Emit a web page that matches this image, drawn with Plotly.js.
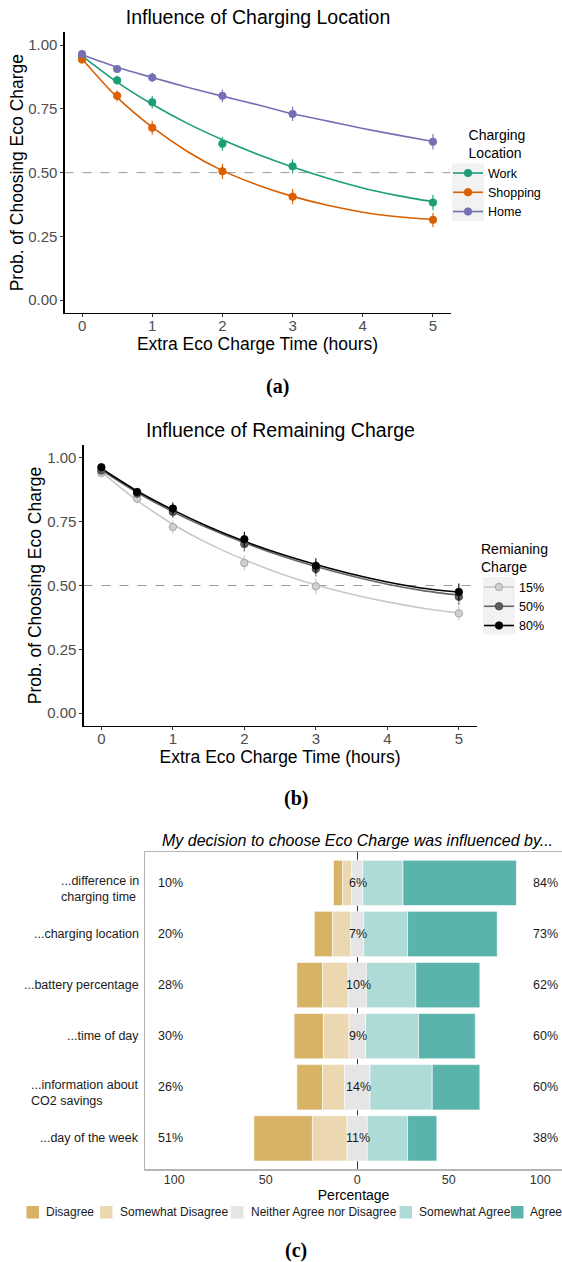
<!DOCTYPE html>
<html>
<head>
<meta charset="utf-8">
<script src="https://cdn.plot.ly/plotly-3.0.1.min.js"></script>
<style>
html, body { margin: 0; padding: 0; background: #ffffff; }
#chart { width: 562px; height: 1262px; }
</style>
</head>
<body>
<div id="chart"></div>
<script>
// ---------------- Data: panel (a) Influence of Charging Location ----------------
const extraHours = [0, 0.5, 1, 2, 3, 5];
const locationNames = ['Work', 'Shopping', 'Home'];
const workObs = [0.955, 0.862, 0.776, 0.613, 0.525, 0.383];
const shoppingObs = [0.943, 0.801, 0.676, 0.505, 0.406, 0.315];
const homeObs = [0.965, 0.906, 0.873, 0.801, 0.730, 0.621];
const workErr = [0.008, 0.018, 0.025, 0.027, 0.028, 0.030];
const shoppingErr = [0.010, 0.022, 0.027, 0.030, 0.030, 0.028];
const homeErr = [0.006, 0.012, 0.018, 0.025, 0.028, 0.030];

const fitHours = [0, 0.5, 1, 1.5, 2, 2.5, 3, 3.5, 4, 4.5, 5];
const workFit = [0.958, 0.855, 0.768, 0.693, 0.629, 0.572, 0.522, 0.478, 0.440, 0.410, 0.386];
const shoppingFit = [0.945, 0.795, 0.678, 0.583, 0.508, 0.452, 0.407, 0.372, 0.345, 0.327, 0.316];
const homeFit = [0.962, 0.913, 0.873, 0.835, 0.800, 0.766, 0.731, 0.702, 0.673, 0.647, 0.622];

// ---------------- Data: panel (b) Influence of Remaining Charge ----------------
const chargeNames = ['15%', '50%', '80%'];
const charge15Obs = [0.940, 0.840, 0.729, 0.588, 0.497, 0.391];
const charge50Obs = [0.950, 0.860, 0.788, 0.662, 0.565, 0.456];
const charge80Obs = [0.963, 0.866, 0.801, 0.681, 0.577, 0.475];
const charge15Err = [0.008, 0.018, 0.026, 0.030, 0.030, 0.030];
const charge50Err = [0.007, 0.017, 0.024, 0.029, 0.030, 0.032];
const charge80Err = [0.006, 0.016, 0.024, 0.029, 0.030, 0.033];
const charge15Fit = [0.945, 0.833, 0.740, 0.664, 0.601, 0.547, 0.502, 0.466, 0.436, 0.411, 0.392];
const charge50Fit = [0.952, 0.864, 0.789, 0.724, 0.667, 0.617, 0.574, 0.537, 0.505, 0.480, 0.462];
const charge80Fit = [0.958, 0.870, 0.796, 0.730, 0.673, 0.624, 0.582, 0.545, 0.514, 0.489, 0.474];

// ---------------- Data: panel (c) Likert ----------------
const likertItems = [
  '...difference in<br>charging time',
  '...charging location',
  '...battery percentage',
  '...time of day',
  '...information about<br>CO2 savings',
  '...day of the week'
];
const likertLevels = ['Disagree', 'Somewhat Disagree', 'Neither Agree nor Disagree', 'Somewhat Agree', 'Agree'];
const disagree = [5, 10, 14, 16, 14, 32];
const somewhatDisagree = [5, 10, 14, 14, 12, 19];
const neutral = [6, 7, 10, 9, 14, 11];
const somewhatAgree = [22, 24, 27, 29, 34, 22];
const agree = [62, 49, 35, 31, 26, 16];
const percentTicks = [-100, -50, 0, 50, 100];
const percentTickText = ['100', '50', '0', '50', '100'];
const hourTicks = [0, 1, 2, 3, 4, 5];
const probTicks = [0, 0.25, 0.5, 0.75, 1];

// ---------------- Layout helpers ----------------
const W = 562, H = 1262;
const fx = p => p / W;
const fy = p => 1 - p / H;
const FONT = 'Liberation Sans, Arial, Helvetica, sans-serif';
const SERIF = 'Liberation Serif, Times New Roman, serif';

const locColors = ['#1b9e77', '#d95f02', '#7570b3'];
const chargeLine = ['#c8c8c8', '#666666', '#000000'];
const chargeFill = ['#cfcfcf', '#5e5e5e', '#000000'];
const chargeEdge = ['#9a9a9a', '#3f3f3f', '#000000'];
const likertColors = ['#d8b365', '#ebd8b0', '#e5e5e5', '#afdbd6', '#5ab4ac'];

const traces = [];

function addPanel(obsList, errList, fitList, names, lineCols, fillCols, edgeCols, xa, ya, legendId) {
  names.forEach((nm, i) => {
    traces.push({
      type: 'scatter', mode: 'lines', x: fitHours, y: fitList[i],
      line: { color: lineCols[i], width: 1.6, shape: 'spline', smoothing: 0.8 },
      xaxis: xa, yaxis: ya, showlegend: false, hoverinfo: 'skip'
    });
  });
  names.forEach((nm, i) => {
    traces.push({
      type: 'scatter', mode: 'markers', x: extraHours, y: obsList[i],
      marker: { color: fillCols[i], size: 7.5, line: { color: edgeCols[i], width: 0.8 } },
      error_y: { type: 'data', array: errList[i], visible: true, color: lineCols[i], thickness: 1.1, width: 0 },
      xaxis: xa, yaxis: ya, showlegend: false
    });
  });
  names.forEach((nm, i) => {
    traces.push({
      type: 'scatter', mode: 'lines+markers', x: [null], y: [null], name: nm,
      line: { color: lineCols[i], width: 1.6 },
      marker: { color: fillCols[i], size: 7.5, line: { color: edgeCols[i], width: 0.8 } },
      xaxis: xa, yaxis: ya, legend: legendId, showlegend: true
    });
  });
}

addPanel([workObs, shoppingObs, homeObs], [workErr, shoppingErr, homeErr],
         [workFit, shoppingFit, homeFit], locationNames, locColors, locColors,
         locColors, 'x', 'y', 'legend');
addPanel([charge15Obs, charge50Obs, charge80Obs], [charge15Err, charge50Err, charge80Err],
         [charge15Fit, charge50Fit, charge80Fit], chargeNames, chargeLine, chargeFill,
         chargeEdge, 'x2', 'y2', 'legend2');

// Likert stacked (diverging) bars: neutral split around zero
const halfN = neutral.map(n => n / 2);
const likertVals = [disagree, somewhatDisagree, neutral, somewhatAgree, agree];
const likertBases = [
  neutral.map((n, i) => -halfN[i] - somewhatDisagree[i] - disagree[i]),
  neutral.map((n, i) => -halfN[i] - somewhatDisagree[i]),
  neutral.map((n, i) => -halfN[i]),
  neutral.map((n, i) => halfN[i]),
  neutral.map((n, i) => halfN[i] + somewhatAgree[i])
];
likertLevels.forEach((lvl, k) => {
  traces.push({
    type: 'bar', orientation: 'h', name: lvl,
    y: likertItems, x: likertVals[k], base: likertBases[k],
    width: 0.887,
    marker: { color: likertColors[k], line: { color: 'rgba(255,255,255,0.85)', width: 0.7 } },
    xaxis: 'x3', yaxis: 'y3', showlegend: false
  });
});

// ---------------- Axes ----------------
const tickFont = { family: FONT, size: 15, color: '#4d4d4d' };
const axTitleFont = { family: FONT, size: 17.5, color: '#000000' };
function xAxisHours(domainPx, anchor) {
  return {
    domain: [fx(domainPx[0]), fx(domainPx[1])], anchor: anchor,
    range: [-0.25, 5.25], tickvals: hourTicks, ticks: 'outside', ticklen: 3,
    tickwidth: 1, tickcolor: '#333333', showline: true, linecolor: '#000000', linewidth: 1.1,
    showgrid: false, zeroline: false, tickfont: tickFont, ticklabelstandoff: -4,
    title: { text: 'Extra Eco Charge Time (hours)', font: axTitleFont, standoff: 0 }
  };
}
function yAxisProb(domainPx, anchor, standoff) {
  return {
    domain: [fy(domainPx[1]), fy(domainPx[0])], anchor: anchor,
    range: [-0.05, 1.05], tickvals: probTicks, tickformat: '.2f', ticks: 'outside', ticklen: 3,
    tickwidth: 1, tickcolor: '#333333', showline: true, linecolor: '#000000', linewidth: 1.1,
    showgrid: false, zeroline: false, tickfont: tickFont,
    title: { text: 'Prob. of Choosing Eco Charge', font: axTitleFont, standoff: standoff }
  };
}

const layout = {
  width: W, height: H,
  margin: { l: 0, r: 0, t: 0, b: 0, autoexpand: false },
  paper_bgcolor: '#ffffff', plot_bgcolor: 'rgba(0,0,0,0)',
  font: { family: FONT, color: '#000000' },
  barmode: 'overlay',
  hovermode: false,
  title: {
    text: 'Influence of Charging Location', xref: 'paper', yref: 'paper',
    x: fx(258), xanchor: 'center', y: fy(17), yanchor: 'middle',
    font: { family: FONT, size: 19.5, color: '#000000' }
  },
  xaxis: xAxisHours([64.5, 450.5], 'y'),
  yaxis: yAxisProb([32.3, 313], 'x', 0),
  xaxis2: xAxisHours([83.5, 476.7], 'y2'),
  yaxis2: yAxisProb([445, 726], 'x2', 1),
  xaxis3: {
    domain: [fx(145.2), 1], anchor: 'y3', range: [-115.9, 111.9],
    tickvals: percentTicks, ticktext: percentTickText, ticks: '',
    showline: true, mirror: true, linecolor: '#b5b5b5', linewidth: 1.6,
    showgrid: false, zeroline: true, zerolinecolor: '#333333', zerolinewidth: 1,
    tickfont: { family: FONT, size: 12.5, color: '#333333' }, ticklabelstandoff: -2,
    title: { text: 'Percentage', font: { family: FONT, size: 14, color: '#000000' }, standoff: 0 }
  },
  yaxis3: {
    domain: [fy(1169), fy(852.3)], anchor: 'x3', type: 'category',
    categoryarray: likertItems, categoryorder: 'array', range: [5.6, -0.6],
    showticklabels: false, ticks: '', showline: true, linecolor: '#b5b5b5', linewidth: 1.6,
    showgrid: false, zeroline: false
  },
  legend: {
    x: fx(448), xanchor: 'left', y: fy(122), yanchor: 'top',
    bgcolor: 'rgba(0,0,0,0)', font: { family: FONT, size: 12.5, color: '#000000' },
    title: { text: 'Charging<br>Location', side: 'top center', font: { family: FONT, size: 14, color: '#000000' } },
    tracegroupgap: 0
  },
  legend2: {
    x: fx(479), xanchor: 'left', y: fy(536), yanchor: 'top',
    bgcolor: 'rgba(0,0,0,0)', font: { family: FONT, size: 12.5, color: '#000000' },
    title: { text: 'Remianing<br>Charge', font: { family: FONT, size: 14, color: '#000000' } },
    tracegroupgap: 0
  },
  shapes: [
    { type: 'line', xref: 'x domain', x0: 0, x1: 1, yref: 'y', y0: 0.5, y1: 0.5,
      line: { color: '#9a9a9a', width: 1, dash: 'dash' }, layer: 'below' },
    { type: 'line', xref: 'x2 domain', x0: 0, x1: 1, yref: 'y2', y0: 0.5, y1: 0.5,
      line: { color: '#9a9a9a', width: 1, dash: 'dash' }, layer: 'below' },
    { type: 'rect', xref: 'paper', yref: 'paper', x0: fx(452), x1: fx(484), y0: fy(163.5), y1: fy(221),
      fillcolor: '#f2f2f2', line: { width: 0 }, layer: 'below' },
    { type: 'rect', xref: 'paper', yref: 'paper', x0: fx(483), x1: fx(515), y0: fy(577), y1: fy(634.5),
      fillcolor: '#f2f2f2', line: { width: 0 }, layer: 'below' }
  ],
  annotations: []
};

// Likert legend row (key squares + labels) along the bottom
const likertKeyLeft = [26.5, 100, 231, 399.5, 511];
const likertKeyText = [44, 118, 248.8, 417.2, 527.5];
const ann = layout.annotations;
likertLevels.forEach((lvl, k) => {
  layout.shapes.push({ type: 'rect', xref: 'paper', yref: 'paper',
    x0: fx(likertKeyLeft[k]), x1: fx(likertKeyLeft[k] + 12.5), y0: fy(1218.5), y1: fy(1206),
    fillcolor: likertColors[k], line: { width: 0 } });
  ann.push({ xref: 'paper', yref: 'paper', x: fx(likertKeyText[k]), y: fy(1212.3),
    xanchor: 'left', yanchor: 'middle', text: lvl, showarrow: false,
    font: { family: FONT, size: 12, color: '#1a1a1a' } });
});

// Panel titles and captions
ann.push({ xref: 'paper', yref: 'paper', x: fx(280.6), y: fy(430), xanchor: 'center', yanchor: 'middle',
  text: 'Influence of Remaining Charge', showarrow: false, font: { family: FONT, size: 19.5, color: '#000000' } });
ann.push({ xref: 'paper', yref: 'paper', x: fx(357.5), y: fy(840), xanchor: 'center', yanchor: 'middle',
  text: '<i>My decision to choose Eco Charge was influenced by...</i>', showarrow: false,
  font: { family: FONT, size: 16, color: '#000000' } });
[['(a)', 277.8, 386.5], ['(b)', 295.7, 798], ['(c)', 295.7, 1250]].forEach(c => {
  ann.push({ xref: 'paper', yref: 'paper', x: fx(c[1]), y: fy(c[2]), xanchor: 'center', yanchor: 'middle',
    text: '<b>' + c[0] + '</b>', showarrow: false, font: { family: SERIF, size: 20, color: '#000000' } });
});

// Likert row labels and percentage labels
likertItems.forEach((item, i) => {
  const multi = item.indexOf('<br>') >= 0;
  ann.push({ xref: 'paper', yref: 'y3', x: fx(141), y: item, xanchor: 'right', yanchor: 'middle',
    align: 'left', text: item, showarrow: false, yshift: multi ? -6 : 0,
    font: { family: FONT, size: 12.5, color: '#1a1a1a' } });
  const leftTotal = disagree[i] + somewhatDisagree[i];
  const rightTotal = somewhatAgree[i] + agree[i];
  ann.push({ xref: 'x3', yref: 'y3', x: -102.3, y: item, xanchor: 'center', yanchor: 'middle',
    text: leftTotal + '%', showarrow: false, font: { family: FONT, size: 12.5, color: '#1a1a1a' } });
  ann.push({ xref: 'x3', yref: 'y3', x: 0.5, y: item, xanchor: 'center', yanchor: 'middle',
    text: neutral[i] + '%', showarrow: false, font: { family: FONT, size: 12.5, color: '#1a1a1a' } });
  ann.push({ xref: 'x3', yref: 'y3', x: 102.8, y: item, xanchor: 'center', yanchor: 'middle',
    text: rightTotal + '%', showarrow: false, font: { family: FONT, size: 12.5, color: '#1a1a1a' } });
});

Plotly.newPlot('chart', traces, layout, { displayModeBar: false, staticPlot: true });
</script>
</body>
</html>
